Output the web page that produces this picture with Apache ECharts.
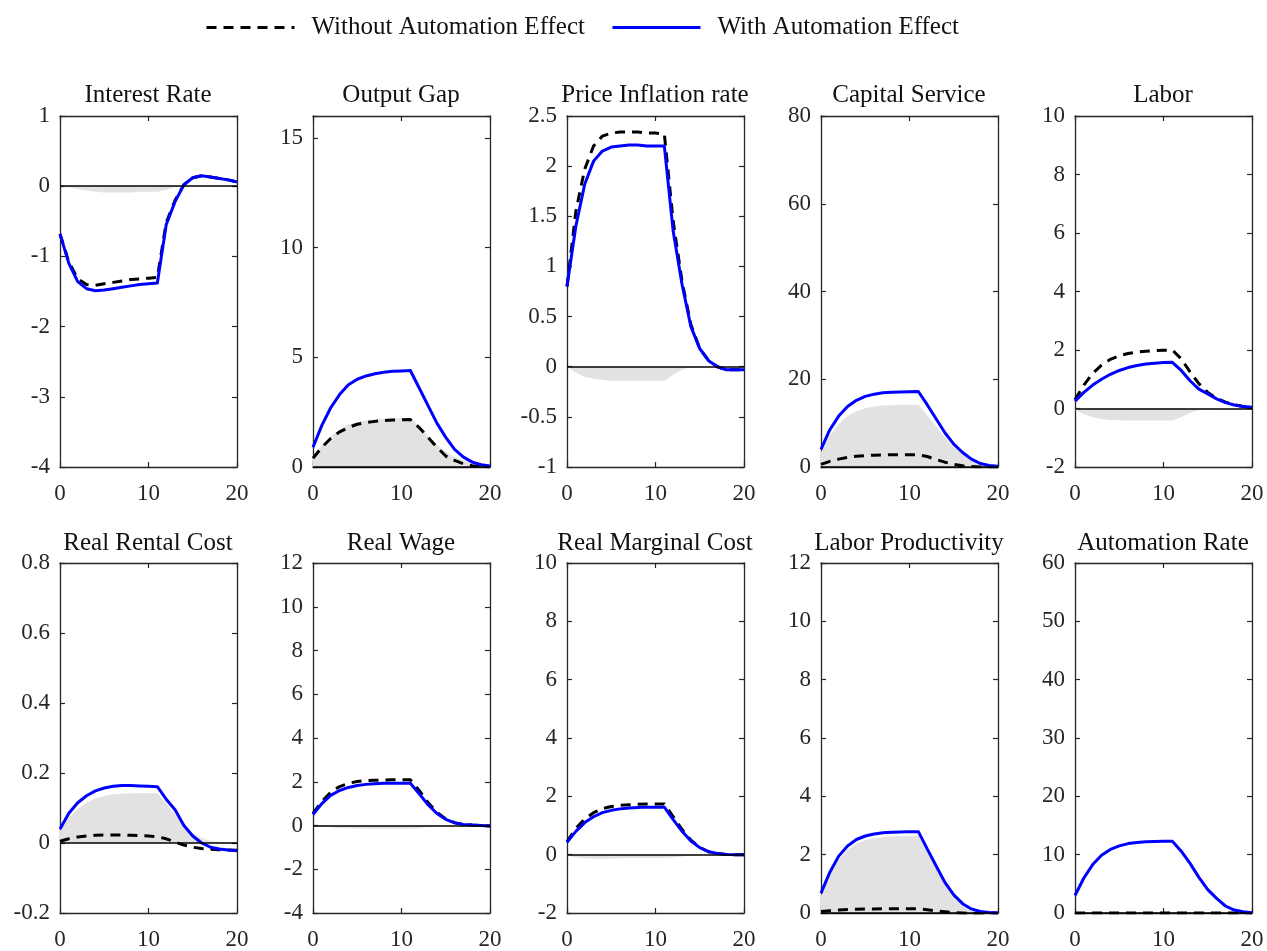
<!DOCTYPE html>
<html>
<head>
<meta charset="utf-8">
<script src="https://cdn.jsdelivr.net/npm/echarts@6/dist/echarts.min.js"></script>
<style>
  html, body { margin: 0; padding: 0; background: #fff; }
  #chart-panel { width: 1267px; height: 951px; }
</style>
</head>
<body>
<div id="chart-panel"></div>
<script>
var chart = echarts.init(document.getElementById('chart-panel'));

// quarters after the shock
var periods = [0, 1, 2, 3, 4, 5, 6, 7, 8, 9, 10, 11, 12, 13, 14, 15, 16, 17, 18, 19, 20];

var titles = ['Interest Rate', 'Output Gap', 'Price Inflation rate', 'Capital Service', 'Labor',
  'Real Rental Cost', 'Real Wage', 'Real Marginal Cost', 'Labor Productivity', 'Automation Rate'];

// y axis ranges (min, max, step)
var yMin = [-4, 0, -1, 0, -2, -0.2, -4, -2, 0, 0];
var yMax = [1, 16, 2.5, 80, 10, 0.8, 12, 10, 12, 60];
var yStep = [1, 5, 0.5, 20, 2, 0.2, 2, 2, 2, 10];

// Interest Rate
var irWith = [-0.68, -1.10, -1.36, -1.46, -1.49, -1.48, -1.46, -1.44, -1.42, -1.40, -1.39, -1.38, -0.55, -0.22, 0.02, 0.12, 0.15, 0.13, 0.11, 0.09, 0.06];
var irWithout = [-0.68, -1.08, -1.32, -1.40, -1.41, -1.39, -1.37, -1.35, -1.33, -1.32, -1.31, -1.30, -0.52, -0.20, 0.02, 0.12, 0.15, 0.13, 0.11, 0.09, 0.06];
var irShade = [0, -0.02, -0.04, -0.06, -0.08, -0.09, -0.09, -0.09, -0.09, -0.08, -0.08, -0.08, -0.05, -0.02, 0, 0, 0, 0, 0, 0, 0];

// Output Gap
var ogWith = [0.9, 1.9, 2.7, 3.3, 3.75, 4.0, 4.15, 4.25, 4.32, 4.36, 4.38, 4.4, 3.6, 2.8, 2.0, 1.35, 0.8, 0.45, 0.22, 0.1, 0.05];
var ogWithout = [0.4, 0.9, 1.3, 1.6, 1.8, 1.95, 2.03, 2.08, 2.12, 2.14, 2.15, 2.16, 1.8, 1.35, 0.9, 0.5, 0.3, 0.15, 0.06, 0.02, 0.01];
var ogShade = [0.5, 1.0, 1.4, 1.7, 1.95, 2.05, 2.12, 2.17, 2.2, 2.22, 2.23, 2.24, 1.85, 1.4, 1.0, 0.7, 0.45, 0.28, 0.15, 0.07, 0.03];

// Price Inflation rate
var piWith = [0.8, 1.4, 1.82, 2.05, 2.15, 2.19, 2.2, 2.21, 2.21, 2.2, 2.2, 2.2, 1.35, 0.82, 0.4, 0.18, 0.06, 0.0, -0.03, -0.03, -0.03];
var piWithout = [0.8, 1.55, 1.97, 2.2, 2.3, 2.33, 2.34, 2.34, 2.34, 2.33, 2.33, 2.32, 1.45, 0.85, 0.42, 0.18, 0.06, 0.0, -0.03, -0.03, -0.03];
var piShade = [0, -0.06, -0.1, -0.12, -0.13, -0.14, -0.14, -0.14, -0.14, -0.14, -0.14, -0.14, -0.08, -0.03, 0, 0, 0, 0, 0, 0, 0];

// Capital Service
var csWith = [4.0, 8.5, 11.6, 13.8, 15.2, 16.1, 16.6, 16.9, 17.05, 17.1, 17.15, 17.2, 14.2, 11.0, 7.8, 5.2, 3.3, 1.8, 0.8, 0.35, 0.15];
var csWithout = [0.6, 1.3, 1.8, 2.2, 2.45, 2.6, 2.7, 2.75, 2.8, 2.8, 2.8, 2.8, 2.4, 1.7, 1.1, 0.6, 0.3, 0.1, 0.0, 0.0, 0.0];
var csShade = [3.4, 7.2, 9.8, 11.6, 12.7, 13.4, 13.8, 14.0, 14.1, 14.2, 14.2, 14.2, 11.8, 9.3, 6.7, 4.5, 3.0, 1.7, 0.8, 0.35, 0.15];

// Labor
var lbWith = [0.25, 0.55, 0.8, 1.0, 1.17, 1.3, 1.4, 1.47, 1.52, 1.55, 1.57, 1.58, 1.3, 0.95, 0.66, 0.5, 0.33, 0.2, 0.12, 0.07, 0.04];
var lbWithout = [0.3, 0.8, 1.2, 1.48, 1.68, 1.8, 1.88, 1.93, 1.96, 1.98, 1.99, 2.0, 1.7, 1.25, 0.85, 0.55, 0.35, 0.22, 0.13, 0.07, 0.04];
var lbShade = [-0.05, -0.2, -0.3, -0.36, -0.39, -0.4, -0.41, -0.41, -0.41, -0.41, -0.41, -0.41, -0.3, -0.15, -0.05, -0.01, 0, 0, 0, 0, 0];

// Real Rental Cost
var rrWith = [0.04, 0.085, 0.115, 0.135, 0.149, 0.157, 0.162, 0.164, 0.164, 0.163, 0.162, 0.161, 0.125, 0.095, 0.05, 0.02, 0.0, -0.012, -0.017, -0.02, -0.022];
var rrWithout = [0.005, 0.012, 0.017, 0.02, 0.022, 0.023, 0.023, 0.023, 0.022, 0.021, 0.02, 0.018, 0.012, 0.003, -0.006, -0.012, -0.016, -0.018, -0.019, -0.02, -0.021];
var rrShade = [0.035, 0.073, 0.098, 0.115, 0.127, 0.134, 0.139, 0.141, 0.142, 0.142, 0.142, 0.143, 0.113, 0.082, 0.05, 0.028, 0.014, 0.006, 0.003, 0.001, 0];

// Real Wage
var rwWith = [0.5, 1.0, 1.38, 1.6, 1.74, 1.83, 1.88, 1.91, 1.93, 1.93, 1.93, 1.93, 1.45, 0.95, 0.55, 0.28, 0.12, 0.05, 0.02, 0.0, -0.02];
var rwWithout = [0.55, 1.1, 1.52, 1.78, 1.93, 2.01, 2.05, 2.07, 2.08, 2.09, 2.09, 2.09, 1.6, 1.05, 0.6, 0.3, 0.13, 0.05, 0.02, 0.0, -0.02];
var rwShade = [0, -0.04, -0.08, -0.11, -0.13, -0.14, -0.15, -0.15, -0.15, -0.15, -0.15, -0.15, -0.12, -0.07, -0.03, -0.01, 0, 0, 0, 0, 0];

// Real Marginal Cost
var rmWith = [0.42, 0.8, 1.1, 1.3, 1.44, 1.52, 1.57, 1.6, 1.62, 1.63, 1.63, 1.63, 1.2, 0.8, 0.47, 0.24, 0.1, 0.04, 0.01, 0.0, 0.0];
var rmWithout = [0.45, 0.9, 1.22, 1.44, 1.58, 1.65, 1.69, 1.71, 1.73, 1.74, 1.74, 1.74, 1.3, 0.86, 0.5, 0.25, 0.1, 0.04, 0.01, 0.0, 0.0];
var rmShade = [-0.03, -0.1, -0.12, -0.14, -0.14, -0.13, -0.12, -0.11, -0.11, -0.11, -0.11, -0.11, -0.1, -0.06, -0.03, -0.01, 0, 0, 0, 0, 0];

// Labor Productivity
var lpWith = [0.68, 1.4, 1.95, 2.3, 2.52, 2.64, 2.71, 2.75, 2.77, 2.78, 2.79, 2.79, 2.2, 1.62, 1.05, 0.62, 0.32, 0.14, 0.05, 0.02, 0.0];
var lpWithout = [0.05, 0.08, 0.1, 0.12, 0.13, 0.14, 0.14, 0.15, 0.15, 0.15, 0.15, 0.14, 0.11, 0.07, 0.04, 0.01, 0.0, -0.01, -0.01, 0.0, 0.0];
var lpShade = [0.6, 1.3, 1.83, 2.17, 2.38, 2.5, 2.56, 2.6, 2.62, 2.63, 2.64, 2.65, 2.08, 1.55, 1.0, 0.6, 0.32, 0.14, 0.06, 0.02, 0.0];

// Automation Rate
var arWith = [3.0, 6.0, 8.3, 9.9, 10.9, 11.5, 11.9, 12.1, 12.2, 12.25, 12.3, 12.3, 10.6, 8.5, 6.1, 4.0, 2.5, 1.2, 0.5, 0.2, 0.05];
var arWithout = [0, 0, 0, 0, 0, 0, 0, 0, 0, 0, 0, 0, 0, 0, 0, 0, 0, 0, 0, 0, 0];
var arShade = [0, 0, 0, 0, 0, 0, 0, 0, 0, 0, 0, 0, 0, 0, 0, 0, 0, 0, 0, 0, 0];

var withData = [irWith, ogWith, piWith, csWith, lbWith, rrWith, rwWith, rmWith, lpWith, arWith];
var withoutData = [irWithout, ogWithout, piWithout, csWithout, lbWithout, rrWithout, rwWithout, rmWithout, lpWithout, arWithout];
var shadeData = [irShade, ogShade, piShade, csShade, lbShade, rrShade, rwShade, rmShade, lpShade, arShade];

var FONT = 'Liberation Serif';
var AXIS_COLOR = '#262626';
var colLeft = [60, 313, 567, 821, 1075];
var rowTop = [116, 563];
var rowHeight = [351, 353];
var titleTop = [83, 531];

function pairs(ys) {
  return periods.map(function (x, i) { return [x, ys[i]]; });
}

var option = {
  backgroundColor: '#fff',
  animation: false,
  title: [],
  grid: [],
  xAxis: [],
  yAxis: [],
  series: [],
  legend: {
    data: ['Without Automation Effect', 'With Automation Effect'],
    left: 200,
    top: 10,
    itemWidth: 88,
    itemHeight: 14,
    itemGap: 26,
    itemStyle: { opacity: 0 },
    lineStyle: { width: 3 },
    textStyle: { fontFamily: FONT, fontSize: 25, color: '#111', padding: [0, 0, 0, 12] }
  }
};

for (var i = 0; i < 10; i++) {
  var row = Math.floor(i / 5), col = i % 5;
  var left = colLeft[col];

  option.title.push({
    text: titles[i],
    left: left + 88,
    top: titleTop[row],
    textAlign: 'center',
    padding: 0,
    textStyle: { fontFamily: FONT, fontSize: 25, fontWeight: 'normal', color: '#111' }
  });

  option.grid.push({
    left: left, top: rowTop[row], width: 177, height: rowHeight[row],
    show: false, containLabel: false
  });

  var lineCfg = { show: true, onZero: false, lineStyle: { color: AXIS_COLOR, width: 1.3 } };
  var tickCfg = { show: true, inside: true, length: 5, lineStyle: { color: AXIS_COLOR, width: 1.2 } };

  option.xAxis.push({
    type: 'value', gridIndex: i, position: 'bottom', min: 0, max: 20, interval: 10,
    axisLine: lineCfg, axisTick: tickCfg, splitLine: { show: false },
    axisLabel: { fontFamily: FONT, fontSize: 23, color: AXIS_COLOR, margin: 15 }
  });
  option.xAxis.push({
    type: 'value', gridIndex: i, position: 'top', min: 0, max: 20, interval: 10,
    axisLine: lineCfg, axisTick: tickCfg, splitLine: { show: false },
    axisLabel: { show: false }
  });

  (function (step, lo) {
    option.yAxis.push({
      type: 'value', gridIndex: i, position: 'left', min: yMin[i], max: yMax[i], interval: yStep[i],
      axisLine: lineCfg, axisTick: tickCfg, splitLine: { show: false },
      axisLabel: {
        fontFamily: FONT, fontSize: 23, color: AXIS_COLOR, margin: 10,
        formatter: function (v) {
          var k = Math.round((v - lo) / step);
          if (Math.abs(lo + k * step - v) > 1e-9) return '';
          return String(+v.toFixed(2));
        }
      }
    });
  })(yStep[i], yMin[i]);
  option.yAxis.push({
    type: 'value', gridIndex: i, position: 'right', min: yMin[i], max: yMax[i], interval: yStep[i],
    axisLine: lineCfg, axisTick: tickCfg, splitLine: { show: false },
    axisLabel: { show: false }
  });

  // shaded difference + zero line
  option.series.push({
    name: 'diff' + i, type: 'line', xAxisIndex: 2 * i, yAxisIndex: 2 * i,
    data: pairs(shadeData[i]), showSymbol: false, symbol: 'none',
    lineStyle: { width: 0, opacity: 0 },
    areaStyle: { color: '#e2e2e2', opacity: 1 },
    silent: true, z: 1,
    markLine: {
      silent: true, symbol: 'none', label: { show: false },
      lineStyle: { color: '#000', width: 1.5, type: 'solid' },
      data: [{ yAxis: 0 }]
    }
  });
  option.series.push({
    name: 'Without Automation Effect', type: 'line', xAxisIndex: 2 * i, yAxisIndex: 2 * i,
    data: pairs(withoutData[i]), showSymbol: false, symbol: 'none',
    lineStyle: { color: '#000', width: 3, type: [10, 7], join: 'round' },
    itemStyle: { color: '#000' }, z: 3
  });
  option.series.push({
    name: 'With Automation Effect', type: 'line', xAxisIndex: 2 * i, yAxisIndex: 2 * i,
    data: pairs(withData[i]), showSymbol: false, symbol: 'none',
    lineStyle: { color: '#0000ff', width: 3, type: 'solid', join: 'round' },
    itemStyle: { color: '#0000ff' }, z: 4
  });
}

chart.setOption(option);
</script>
</body>
</html>
